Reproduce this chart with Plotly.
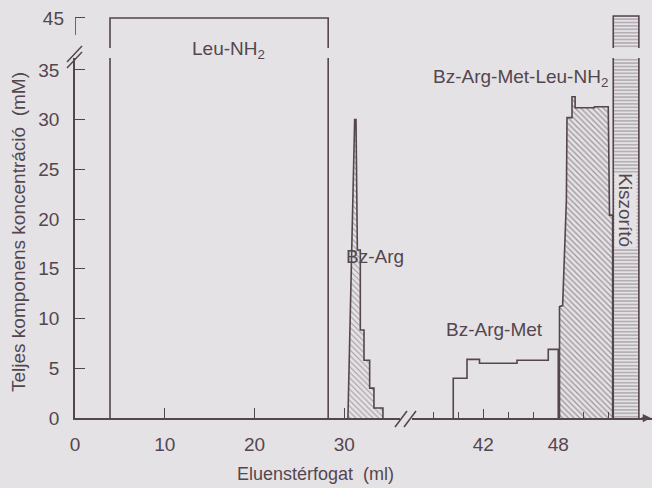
import plotly.graph_objects as go

BG = '#e4e2e4'
INK = '#54464f'
FONT = 'Liberation Sans, Arial, sans-serif'

# ---------------- data (ml, mM) ----------------
leu_x = [3.9, 3.9, 28.2, 28.2]
leu_y = [0, 45, 45, 0]

bzarg_x = [30.4, 31.15, 31.3, 31.45, 31.78, 31.78, 32.19, 32.19, 32.82, 32.82, 33.3, 33.3, 34.3, 34.3]
bzarg_y = [0, 30.0, 30.0, 16.9, 16.9, 8.85, 8.85, 5.8, 5.8, 3.0, 3.0, 1.0, 1.0, 0]

bzam_x = [39.6, 39.6, 40.7, 40.7, 41.7, 41.7, 44.7, 44.7, 47.2, 47.2, 48.0, 48.0]
bzam_y = [0, 4.0, 4.0, 5.9, 5.9, 5.5, 5.5, 5.8, 5.8, 6.9, 6.9, 0]

bzaml_x = [48.1, 48.1, 48.35, 48.65, 48.7, 49.1, 49.1, 49.35, 49.35, 50.9, 50.9, 52.0, 52.1, 52.35, 52.35]
bzaml_y = [0, 11.2, 11.3, 21.9, 30.2, 30.2, 32.3, 32.3, 31.2, 31.2, 31.3, 31.3, 20.4, 20.4, 0]

kisz_x = [52.4, 52.4, 54.45, 54.45]
kisz_y = [0, 45.2, 45.2, 0]

y_ticks_low = [0, 5, 10, 15, 20, 25, 30, 35]
y_ticks_high = [45]
x_ticks_left = [0, 10, 20, 30]
x_ticks_right_major = [42, 48]
x_ticks_right_minor = [38, 40, 44, 46, 50, 52]

# ---------------- layout geometry ----------------
L, R, T, B = 75, 0, 14, 70
W, H = 652, 488
PW, PH = W - L - R, H - T - B


def px(xp):
    return (xp - L) / PW


def py(yp):
    return (H - B - yp) / PH


fig = go.Figure()

line = dict(color=INK, width=1.6)


def add(x, y, xa, ya, fill=None, pattern=None, name=''):
    kw = dict(x=x, y=y, mode='lines', line=line, xaxis=xa, yaxis=ya,
              showlegend=False, hoverinfo='skip', name=name)
    if fill:
        kw['fill'] = 'toself'
        kw['fillcolor'] = BG
        kw['fillpattern'] = pattern
    fig.add_trace(go.Scatter(**kw))


hatch = dict(shape='\\', size=4, solidity=0.28, fgcolor='#64575f', bgcolor=BG)
hatch2 = dict(shape='\\', size=4, solidity=0.3, fgcolor='#54464f', bgcolor=BG)
stripes = dict(shape='-', size=3.4, solidity=0.32, fgcolor=INK, bgcolor=BG)

# Leu-NH2 box (both vertical segments)
add(leu_x, leu_y, 'x', 'y')
add(leu_x, leu_y, 'x', 'y2')
# Bz-Arg
add(bzarg_x, bzarg_y, 'x', 'y', fill=True, pattern=hatch)
# Bz-Arg-Met
add(bzam_x, bzam_y, 'x2', 'y')
# Bz-Arg-Met-Leu-NH2
add(bzaml_x, bzaml_y, 'x2', 'y', fill=True, pattern=hatch2)
# Kiszorító
add(kisz_x, kisz_y, 'x2', 'y', fill=True, pattern=stripes)
add(kisz_x, kisz_y, 'x2', 'y2', fill=True, pattern=stripes)

TS = 19
tickfont = dict(family=FONT, size=TS, color=INK)
x_split = px(400)
x2_start = px(412)
y_low_top = py(58)
y_high_bottom = py(48)

fig.update_layout(
    width=W, height=H,
    margin=dict(l=L, r=R, t=T, b=B, pad=0),
    paper_bgcolor=BG, plot_bgcolor=BG,
    font=dict(family=FONT, size=19, color=INK),
    xaxis=dict(domain=[0, x_split], range=[0, 36.2], anchor='y',
               showgrid=False, zeroline=False, showline=True, linecolor=INK, linewidth=1.6,
               tickmode='array', tickvals=x_ticks_left, ticks='inside', ticklen=10,
               tickcolor=INK, tickwidth=1.4, tickfont=tickfont, ticklabelstandoff=8),
    xaxis2=dict(domain=[x2_start, 1], range=[36.3, 55.5], anchor='y',
                showgrid=False, zeroline=False, showline=True, linecolor=INK, linewidth=1.6,
                tickmode='array', tickvals=x_ticks_right_major, ticks='inside', ticklen=9,
                tickcolor=INK, tickwidth=1.4, tickfont=tickfont, ticklabelstandoff=8,
                minor=dict(tickmode='array', tickvals=x_ticks_right_minor, ticks='inside',
                           ticklen=6, tickcolor=INK, tickwidth=1.4, showgrid=False)),
    yaxis=dict(domain=[0, y_low_top], range=[0, 36.2], anchor='x',
               showgrid=False, zeroline=False, showline=True, linecolor=INK, linewidth=1.6,
               tickmode='array', tickvals=y_ticks_low, ticks='inside', ticklen=10,
               tickcolor=INK, tickwidth=1.4, tickfont=tickfont, ticklabelstandoff=10),
    yaxis2=dict(domain=[y_high_bottom, 1], range=[41.98, 45.4], anchor='x',
                showgrid=False, zeroline=False, showline=False,
                tickmode='array', tickvals=y_ticks_high, ticks='inside', ticklen=10,
                tickcolor=INK, tickwidth=1.4, tickfont=tickfont, ticklabelstandoff=10),
)

shapes = []
# upper y-axis segment
shapes.append(dict(type='line', xref='x', yref='y2', x0=0, x1=0, y0=45, y1=43.3,
                   line=dict(color=INK, width=1.6)))
# y-axis break marks
for d in (0, 6):
    shapes.append(dict(type='line', xref='paper', yref='paper',
                       x0=px(67), y0=py(62 + d), x1=px(82), y1=py(46 + d),
                       line=dict(color=INK, width=1.5)))
# x-axis break marks
for d in (0, 9):
    shapes.append(dict(type='line', xref='paper', yref='paper',
                       x0=px(395 + d), y0=py(427), x1=px(407 + d), y1=py(411),
                       line=dict(color=INK, width=1.5)))
fig.update_layout(shapes=shapes)

LS = 19
C = dict(showarrow=False, xanchor='center', yanchor='middle')
ann = []
ann.append(dict(xref='paper', yref='paper', x=px(228), y=py(50), text='Leu-NH<sub>2</sub>',
                font=dict(size=LS), **C))
ann.append(dict(xref='x', yref='y', x=33.4, y=16.2, text='Bz-Arg', font=dict(size=LS), **C))
ann.append(dict(xref='x2', yref='y', x=42.9, y=8.85, text='Bz-Arg-Met', font=dict(size=LS), **C))
ann.append(dict(xref='x2', yref='y', x=45.0, y=34.2, text='Bz-Arg-Met-Leu-NH<sub>2</sub>',
                font=dict(size=LS), **C))
ann.append(dict(xref='x2', yref='y', x=53.42, y=20.9, text='Kiszorító',
                textangle=90, bgcolor=BG, borderpad=0, font=dict(size=LS), **C))
# axis titles
ann.append(dict(xref='paper', yref='paper', x=px(18), y=py(232),
                text='Teljes komponens koncentráció  (mM)', textangle=-90,
                font=dict(size=19), **C))
ann.append(dict(xref='paper', yref='paper', x=px(315), y=py(474),
                text='Eluenstérfogat  (ml)', font=dict(size=18), **C))
# axis arrow
ann.append(dict(xref='paper', yref='paper', x=1, y=0, ax=-12, ay=0, text='',
                showarrow=True, arrowhead=2, arrowsize=1.1, arrowwidth=1.5, arrowcolor=INK))
fig.update_layout(annotations=ann)

fig.write_html('out.html')
